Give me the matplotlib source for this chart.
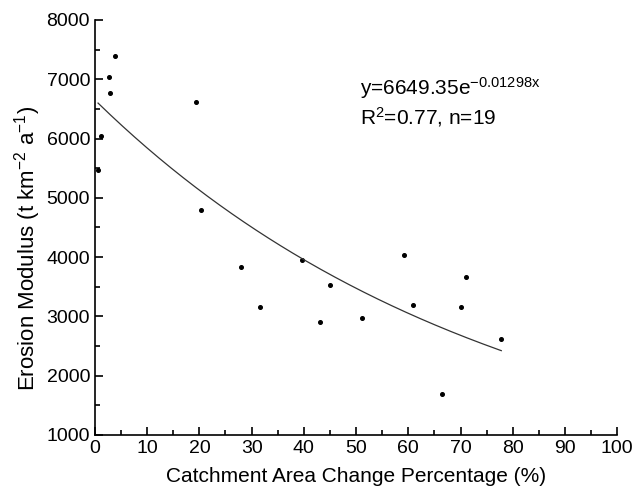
import numpy as np
import matplotlib.pyplot as plt
from matplotlib.ticker import MultipleLocator

plt.rcParams["font.family"] = ["Liberation Sans", "DejaVu Sans"]
plt.rcParams["mathtext.default"] = "regular"

# Catchment area change (%) and erosion modulus (t km-2 a-1)
area_change = [0.6, 1.1, 2.7, 2.8, 3.8, 19.3, 20.4, 28.0, 31.7, 39.7,
               43.1, 45.1, 51.1, 59.1, 60.9, 66.4, 70.1, 71.1, 77.8]
erosion_modulus = [5470, 6040, 7040, 6770, 7390, 6620, 4800, 3830, 3160, 3950,
                   2910, 3530, 2970, 4030, 3200, 1690, 3160, 3660, 2620]

# Exponential fit coefficients
fit_a = 6649.35
fit_b = -0.01298

fig = plt.figure(figsize=(6.37, 4.86), dpi=100)
ax = fig.add_axes([0.149, 0.105, 0.82, 0.854])

ax.plot(area_change, erosion_modulus, "o", color="black", markersize=2.6)

xs = np.linspace(min(area_change), max(area_change), 200)
ax.plot(xs, fit_a * np.exp(fit_b * xs), color="#333333", linewidth=0.9)

ax.set_xlim(0, 100)
ax.set_ylim(1000, 8000)
ax.xaxis.set_major_locator(MultipleLocator(10))
ax.xaxis.set_minor_locator(MultipleLocator(5))
ax.yaxis.set_major_locator(MultipleLocator(1000))
ax.yaxis.set_minor_locator(MultipleLocator(500))

ax.spines["top"].set_visible(False)
ax.spines["right"].set_visible(False)
for side in ("left", "bottom"):
    ax.spines[side].set_linewidth(1.2)

ax.tick_params(which="both", direction="in", width=1.2, labelsize=14)
ax.tick_params(which="major", length=6)
ax.tick_params(which="minor", length=3.5)

ax.set_xlabel("Catchment Area Change Percentage (%)", fontsize=15, labelpad=7)
ax.set_ylabel(r"Erosion Modulus (t km$^{-2}$ a$^{-1}$)", fontsize=16)
ax.yaxis.set_label_coords(-0.1, 0.45)

# Fit equation and statistics
fig.text(360 / 637, 1 - 88 / 486, r"y=6649.35e$^{-0.01298x}$", fontsize=15,
         va="center", ha="left")
fig.text(360 / 637, 1 - 117 / 486, r"R$^{2}$=0.77, n=19", fontsize=15,
         va="center", ha="left")

fig.savefig("out.png", dpi=100)
